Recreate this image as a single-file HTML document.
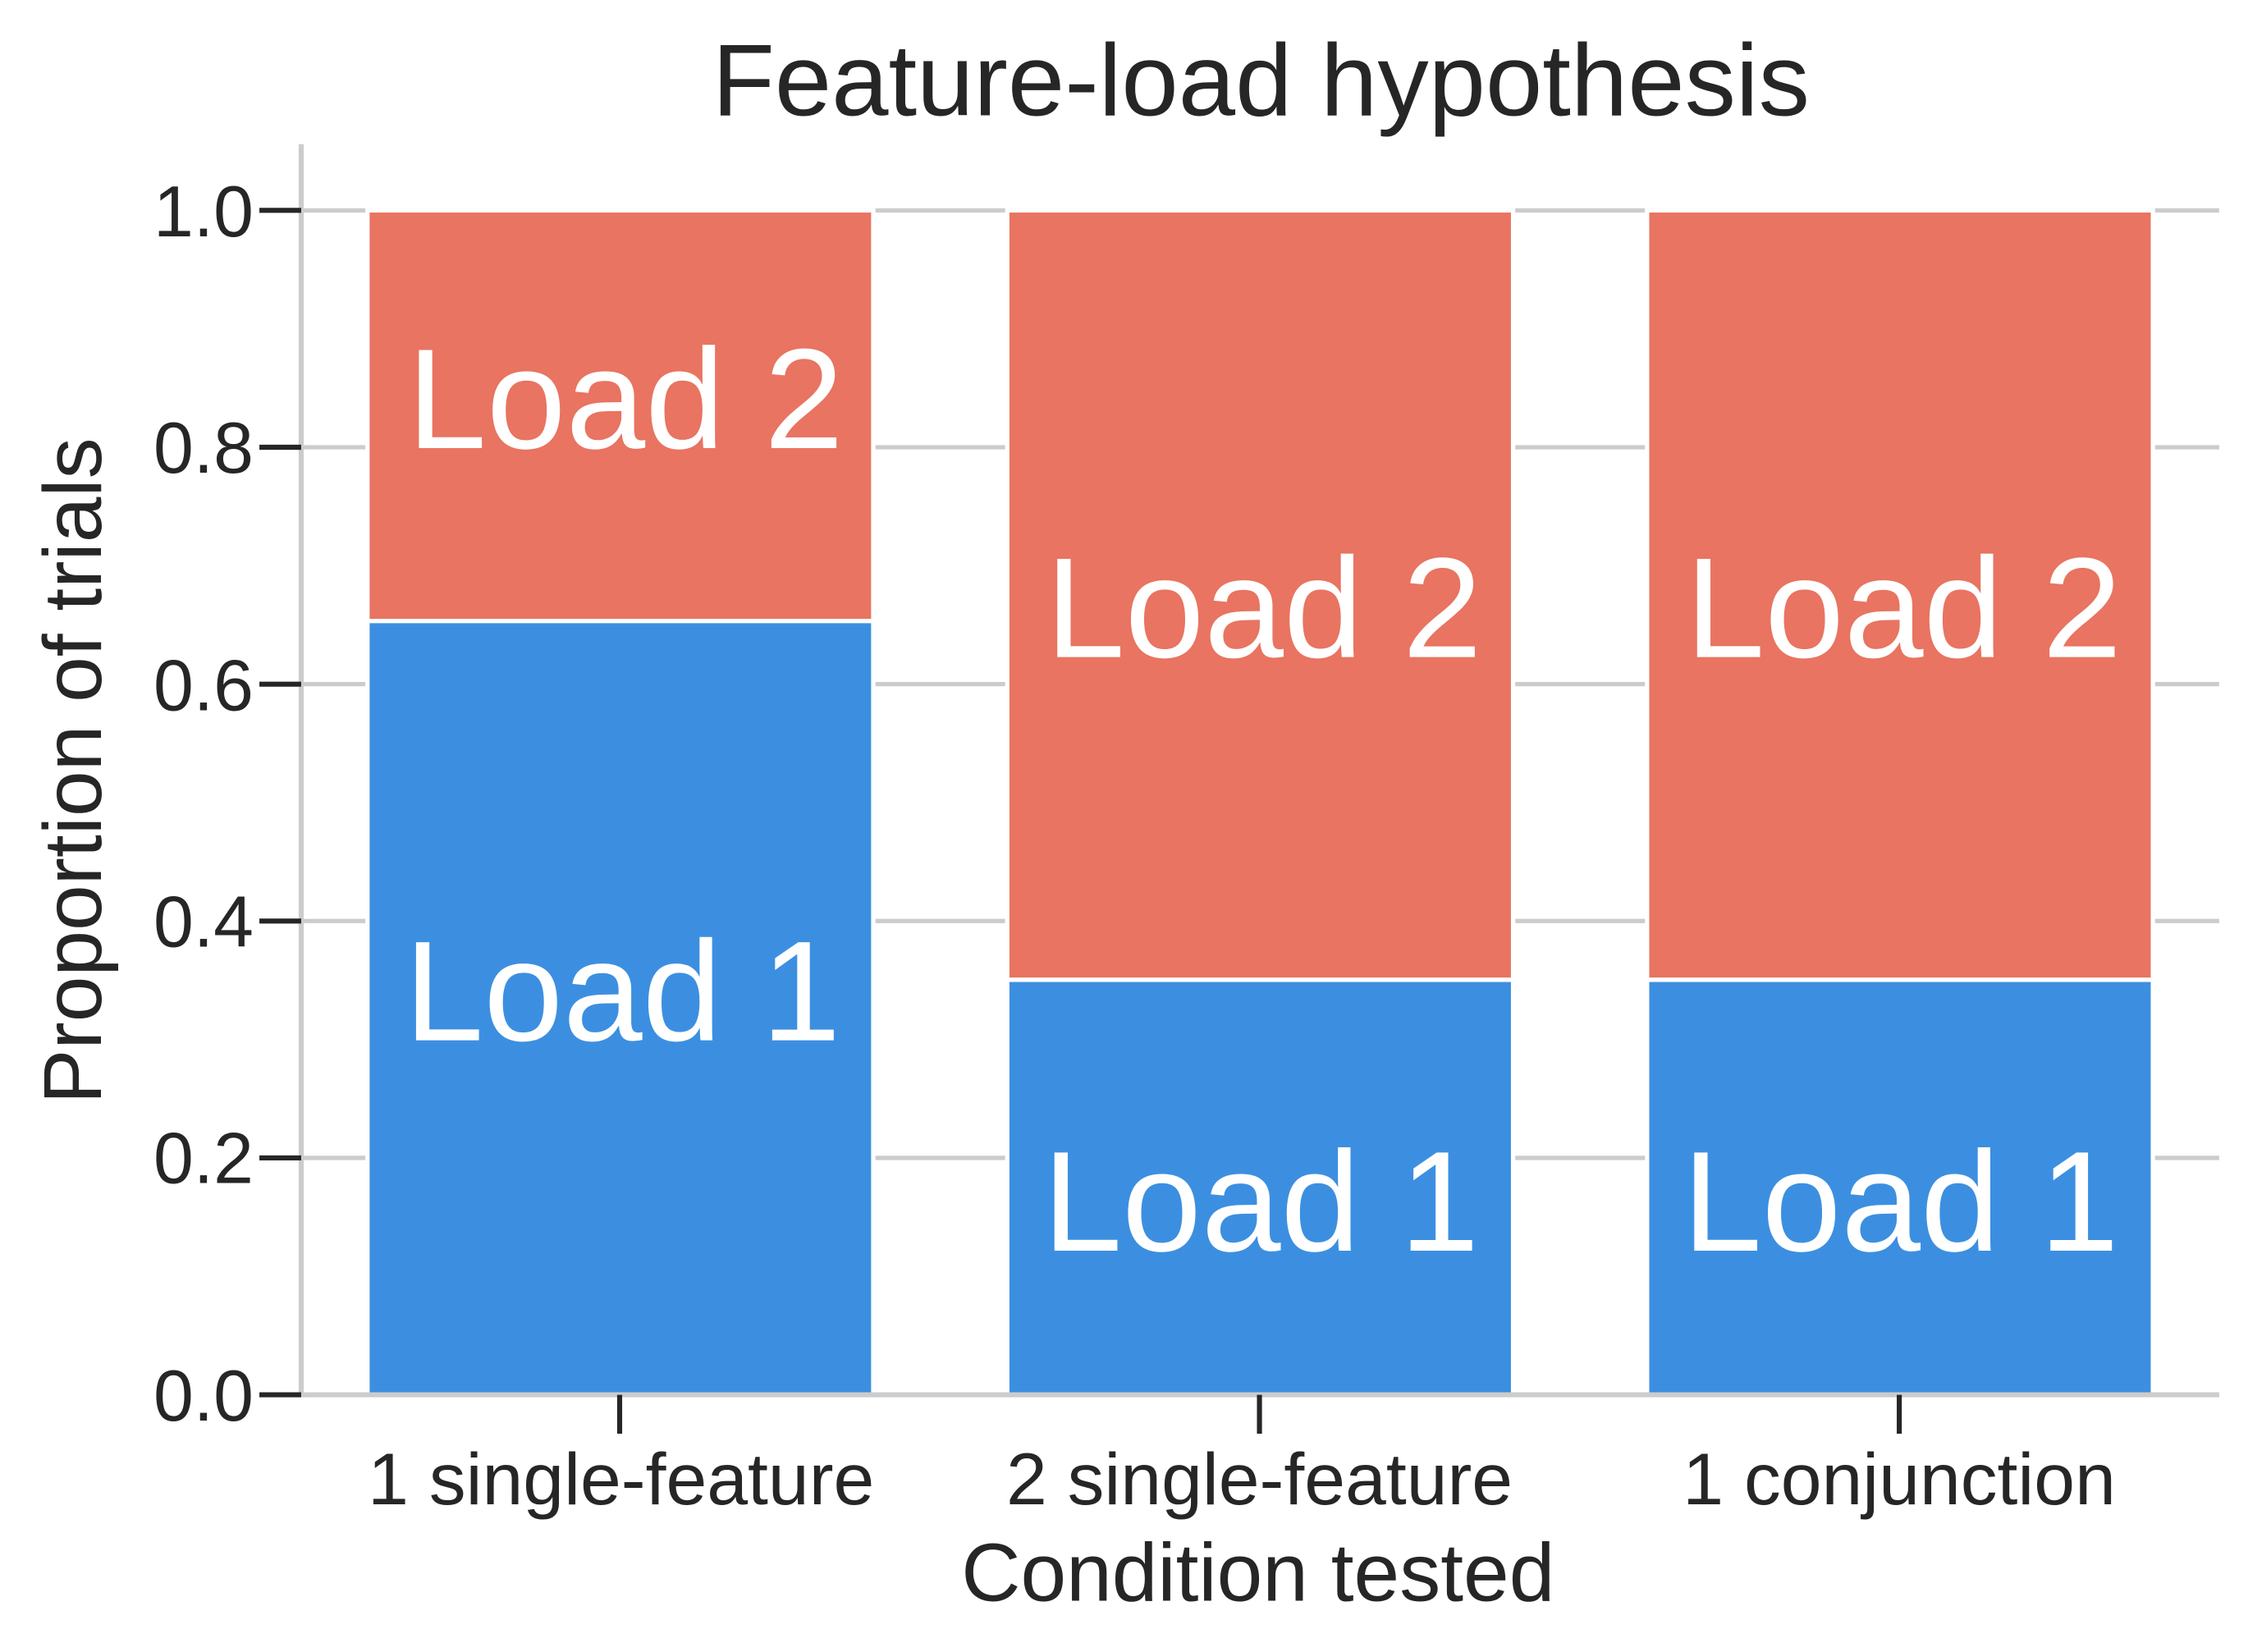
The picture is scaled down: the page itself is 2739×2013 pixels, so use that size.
<!DOCTYPE html>
<html><head><meta charset="utf-8"><style>html,body{margin:0;padding:0;background:#fff}svg{display:block}</style></head><body>
<svg width="2739" height="2013" viewBox="0 0 1560 1146.5" xmlns="http://www.w3.org/2000/svg" font-family="Liberation Sans, Arial, sans-serif">
<rect width="1560" height="1146.5" fill="#fff"/>
<g stroke="#cccccc" stroke-width="3">
<line x1="209" y1="146" x2="1540" y2="146"/>
<line x1="209" y1="310.4" x2="1540" y2="310.4"/>
<line x1="209" y1="474.8" x2="1540" y2="474.8"/>
<line x1="209" y1="639.2" x2="1540" y2="639.2"/>
<line x1="209" y1="803.6" x2="1540" y2="803.6"/>
</g>
<g stroke="#fff" stroke-width="3">
<rect x="255" y="146" width="351" height="285" fill="#e87461"/>
<rect x="255" y="431" width="351" height="537" fill="#3c8fe0"/>
<rect x="699" y="146" width="351" height="534" fill="#e87461"/>
<rect x="699" y="680" width="351" height="288" fill="#3c8fe0"/>
<rect x="1143" y="146" width="351" height="534" fill="#e87461"/>
<rect x="1143" y="680" width="351" height="288" fill="#3c8fe0"/>
</g>
<g stroke="#cccccc" stroke-width="3.5">
<line x1="209" y1="100" x2="209" y2="968"/>
<line x1="209" y1="968" x2="1540" y2="968"/>
</g>
<g stroke="#262626" stroke-width="3.5">
<line x1="180" y1="146" x2="209" y2="146"/>
<line x1="180" y1="310.4" x2="209" y2="310.4"/>
<line x1="180" y1="474.8" x2="209" y2="474.8"/>
<line x1="180" y1="639.2" x2="209" y2="639.2"/>
<line x1="180" y1="803.6" x2="209" y2="803.6"/>
<line x1="180" y1="968" x2="209" y2="968"/>
<line x1="430" y1="968" x2="430" y2="995"/>
<line x1="874" y1="968" x2="874" y2="995"/>
<line x1="1318" y1="968" x2="1318" y2="995"/>
</g>
<g fill="#262626" font-size="50" text-anchor="end">
<text x="176" y="164">1.0</text>
<text x="176" y="328">0.8</text>
<text x="176" y="493">0.6</text>
<text x="176" y="657">0.4</text>
<text x="176" y="821">0.2</text>
<text x="176" y="986">0.0</text>
</g>
<g fill="#262626" font-size="51" text-anchor="middle">
<text x="431" y="1044">1 single-feature</text>
<text x="874" y="1044">2 single-feature</text>
<text x="1318" y="1044">1 conjunction</text>
<text x="873" y="1111" font-size="57">Condition tested</text>
<text x="875" y="80" font-size="71">Feature-load hypothesis</text>
<text transform="translate(70,535) rotate(-90)" font-size="57">Proportion of trials</text>
</g>
<g fill="#fff" font-size="99" text-anchor="middle">
<text x="434" y="311">Load 2</text>
<text x="432" y="722">Load 1</text>
<text x="877" y="456">Load 2</text>
<text x="875" y="868">Load 1</text>
<text x="1321" y="456">Load 2</text>
<text x="1319" y="868">Load 1</text>
</g>
</svg>
</body></html>
